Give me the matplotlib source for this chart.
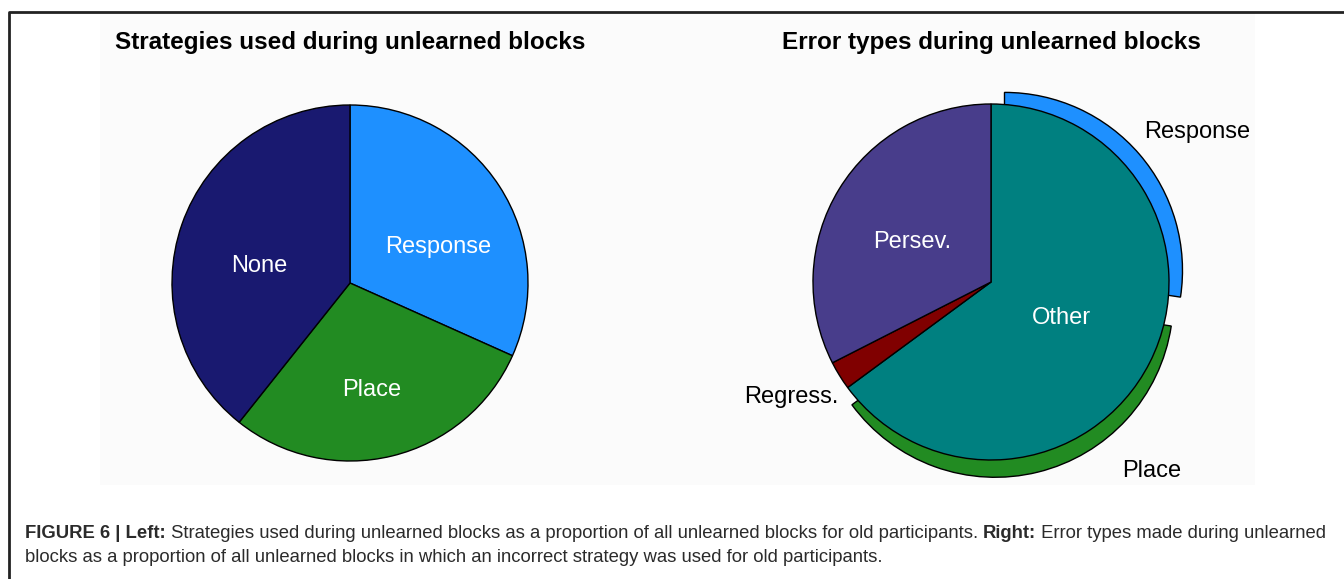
import numpy as np
import matplotlib
matplotlib.use('Agg')
import matplotlib.pyplot as plt
from matplotlib.patches import Rectangle

W, H = 1344, 579

# left pie: strategies used during unlearned blocks (% of blocks)
strategy_labels = ['Response', 'Place', 'None']
strategy_vals = [31.7, 29.0, 39.3]
strategy_colors = ['#1e90ff', '#228b22', '#191970']

# right pie: error types during unlearned blocks (%)
error_labels = ['Other', 'Regress.', 'Persev.']
error_vals = [64.9, 2.6, 32.5]
error_colors = ['#008080', '#800000', '#483d8b']

# "Other" split into the strategy that was used (outer exploded ring)
other_labels = ['Response', 'Place']
other_vals = [27.4, 37.5]
other_colors = ['#1e90ff', '#228b22']

titles = ['Strategies used during unlearned blocks', 'Error types during unlearned blocks']

caption1 = [('FIGURE 6 | Left:', 'bold'),
            (' Strategies used during unlearned blocks as a proportion of all unlearned blocks for old participants. ', 'normal'),
            ('Right:', 'bold'),
            (' Error types made during unlearned', 'normal')]
caption2 = [('blocks as a proportion of all unlearned blocks in which an incorrect strategy was used for old participants.', 'normal')]

R = 178
left_c = (350, 283)
right_c = (991, 282)
FONT = ['Liberation Sans', 'DejaVu Sans']


def py(y):
    ''' image pixel row -> axes y '''
    return H - y


fig = plt.figure(figsize=(W / 100, H / 100), dpi=100)
ax = fig.add_axes([0, 0, 1, 1])

# faint plot background and frame lines
ax.add_patch(Rectangle((100, py(485)), 1155, 472, facecolor='#fbfbfb', edgecolor='none', zorder=0))
ax.plot([9, 9, W], [0, py(12), py(12)], color='#222222', lw=2, solid_capstyle='butt')

wp = dict(edgecolor='black', linewidth=1)

# left pie
ax.pie(strategy_vals, colors=strategy_colors, startangle=90, counterclock=False,
       center=(left_c[0], py(left_c[1])), radius=R, wedgeprops=wp)

# exploded ring behind the right pie (explode is in data units here)
ring_vals = other_vals + [100 - sum(other_vals)]
ring, _ = ax.pie(ring_vals, colors=other_colors + ['white'], startangle=90, counterclock=False,
                 explode=[0.1 * R, 0.1 * R, 0], center=(right_c[0], py(right_c[1])),
                 radius=R, wedgeprops=wp)
ring[2].set_visible(False)

# right pie
ax.pie(error_vals, colors=error_colors, startangle=90, counterclock=False,
       center=(right_c[0], py(right_c[1])), radius=R, wedgeprops=wp)

ax.set_xlim(0, W)
ax.set_ylim(0, H)
ax.axis('off')

lab = dict(fontsize=17, family=FONT, ha='center', va='center')
ax.text(259, py(266), 'None', color='white', **lab)
ax.text(438, py(247), 'Response', color='white', **lab)
ax.text(372, py(390), 'Place', color='white', **lab)
ax.text(912, py(242), 'Persev.', color='white', **lab)
ax.text(1061, py(318), 'Other', color='white', **lab)
ax.text(1197, py(132), 'Response', color='black', **lab)
ax.text(1152, py(471), 'Place', color='black', **lab)
ax.text(838, py(397), 'Regress.', color='black', **dict(lab, ha='right'))

tfont = dict(fontsize=17.5, fontweight='bold', family=FONT, ha='center', va='center')
ax.text(left_c[0], py(42), titles[0], **tfont)
ax.text(right_c[0], py(42), titles[1], **tfont)


def draw_runs(x, y, runs):
    ''' writes text pieces one after another on a baseline '''
    r = fig.canvas.get_renderer()
    for s, w in runs:
        t = ax.text(x, py(y), s, fontweight=w, fontsize=13.3, color='#2b2b2b',
                    family=FONT, va='baseline', ha='left')
        bb = t.get_window_extent(renderer=r)
        x += bb.width


draw_runs(25, 538, caption1)
draw_runs(25, 562, caption2)

fig.savefig('out.png', dpi=100)
